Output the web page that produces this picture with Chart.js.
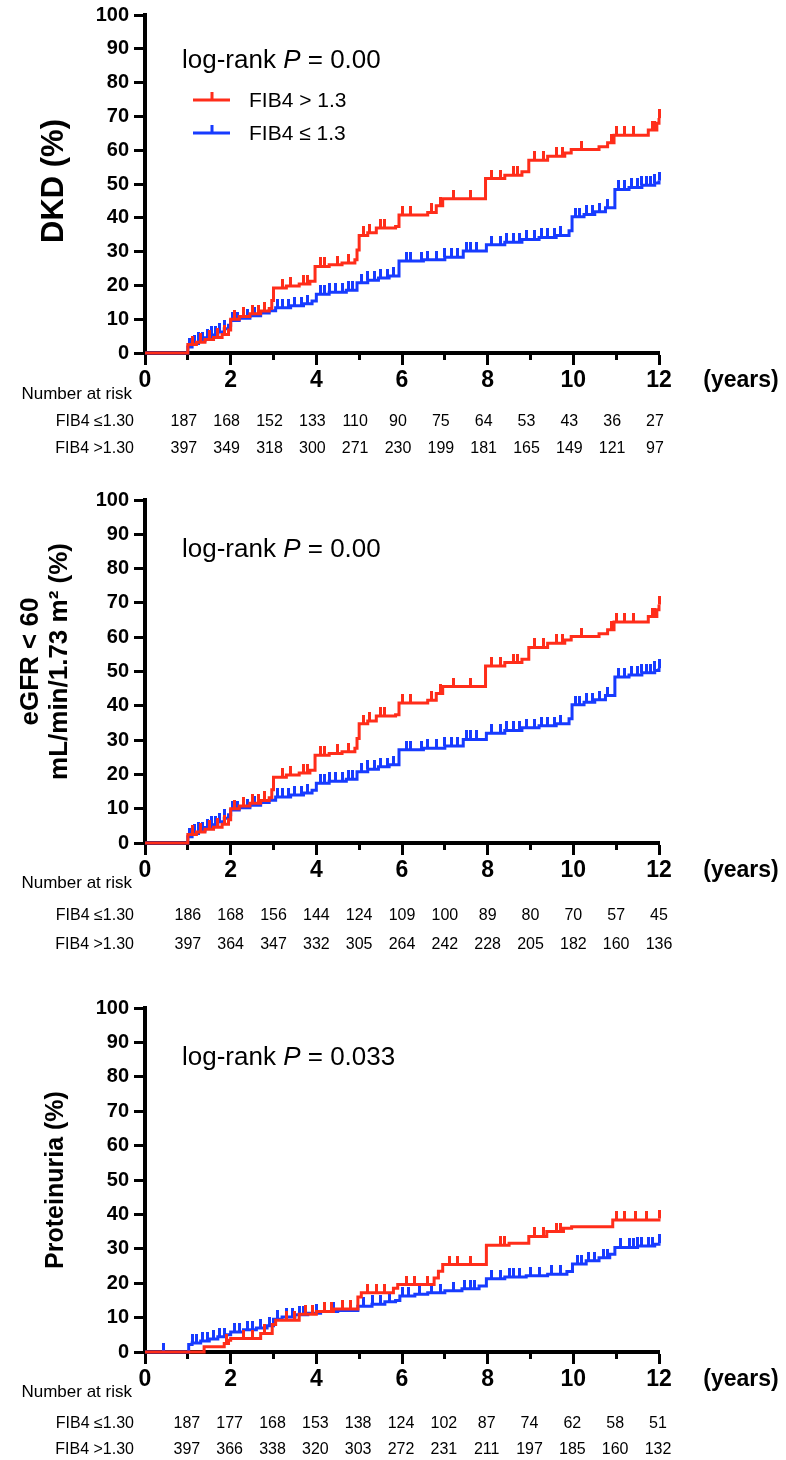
<!DOCTYPE html>
<html>
<head>
<meta charset="utf-8">
<script src="https://cdn.jsdelivr.net/npm/chart.js@4.4.1/dist/chart.umd.min.js"></script>
<style>
body { margin: 0; background: #fff; }
canvas { position: absolute; left: 0; }
</style>
</head>
<body>
<canvas id="c1" width="786" height="470" style="top:0px"></canvas>
<canvas id="c2" width="786" height="480" style="top:480px"></canvas>
<canvas id="c3" width="786" height="470" style="top:990px"></canvas>
<script>
// ---- data ----
// step curves: time (years) and cumulative incidence (%)
const dkdHighT = [0, 1.0, 1.2, 1.4, 1.6, 1.8, 1.95, 2.0, 2.2, 2.45, 2.7, 2.9, 2.96, 3.0, 3.3, 3.6, 3.85, 3.97, 4.3, 4.6, 4.9, 4.95, 5.0, 5.2, 5.4, 5.85, 5.93, 6.6, 6.8, 6.95, 7.95, 8.4, 8.8, 8.96, 9.4, 9.8, 9.95, 10.6, 10.8, 10.95, 11.75, 11.95, 12.0];
const dkdHighV = [0, 2.5, 3.2, 4.0, 4.6, 5.5, 6.8, 10.0, 10.8, 11.6, 12.4, 13.2, 15.5, 19.2, 19.8, 20.4, 21.2, 25.6, 26.1, 26.6, 27.6, 30.5, 34.8, 35.6, 37.0, 37.4, 40.8, 41.6, 43.6, 45.6, 51.6, 52.6, 53.6, 57.0, 58.2, 59.2, 60.2, 61.0, 62.2, 64.4, 66.0, 68.0, 69.5];
const dkdHighCens = [1.1, 1.3, 1.5, 1.7, 1.85, 2.1, 2.3, 2.5, 2.65, 2.8, 3.2, 3.4, 3.7, 3.8, 4.1, 4.2, 4.5, 4.75, 5.1, 5.25, 5.5, 5.6, 6.0, 6.2, 6.7, 6.9, 7.2, 7.6, 8.1, 8.3, 8.6, 8.7, 9.1, 9.3, 9.6, 9.75, 10.2, 10.9, 11.0, 11.2, 11.4, 11.85, 11.9, 12.0];

const dkdLowT = [0, 1.0, 1.1, 1.25, 1.4, 1.55, 1.7, 1.85, 1.95, 2.0, 2.2, 2.45, 2.7, 2.9, 3.05, 3.4, 3.7, 3.9, 4.0, 4.3, 4.7, 4.95, 5.2, 5.45, 5.7, 5.93, 6.5, 7.0, 7.43, 7.97, 8.4, 8.8, 9.2, 9.6, 9.9, 9.97, 10.25, 10.5, 10.75, 10.97, 11.3, 11.6, 11.9, 12.0];
const dkdLowV = [0, 1.8, 2.8, 3.6, 4.5, 5.3, 6.2, 7.2, 8.2, 9.6, 10.3, 11.0, 11.8, 12.5, 13.4, 14.0, 14.6, 15.4, 17.4, 18.0, 18.6, 20.8, 21.5, 22.2, 22.8, 27.2, 27.6, 28.3, 30.2, 32.0, 32.8, 33.6, 34.2, 34.8, 36.2, 40.3, 41.0, 41.8, 43.0, 48.4, 49.0, 49.6, 50.3, 51.0];
const dkdLowCens = [1.05, 1.15, 1.25, 1.35, 1.45, 1.55, 1.65, 1.75, 1.85, 2.05, 2.15, 2.3, 2.4, 2.55, 2.65, 2.8, 3.1, 3.2, 3.35, 3.5, 3.65, 3.8, 4.1, 4.2, 4.3, 4.45, 4.6, 4.75, 4.85, 5.05, 5.2, 5.35, 5.5, 5.65, 5.8, 6.1, 6.2, 6.45, 6.6, 6.8, 7.0, 7.15, 7.3, 7.5, 7.6, 7.75, 8.1, 8.3, 8.45, 8.6, 8.75, 8.9, 9.1, 9.25, 9.4, 9.55, 9.7, 10.05, 10.15, 10.3, 10.45, 10.6, 10.8, 11.05, 11.2, 11.35, 11.5, 11.6, 11.7, 11.8, 11.9, 12.0];

// the eGFR panel shows the same curves as the DKD panel
const egfrHighT = dkdHighT, egfrHighV = dkdHighV, egfrHighCens = dkdHighCens;
const egfrLowT = dkdLowT, egfrLowV = dkdLowV, egfrLowCens = dkdLowCens;

const protHighT = [0, 1.38, 1.85, 1.95, 2.0, 2.7, 2.97, 3.05, 3.6, 4.0, 4.4, 4.97, 5.05, 5.8, 5.9, 6.75, 6.85, 6.95, 7.97, 8.5, 8.96, 9.38, 9.77, 9.96, 10.92, 12.0];
const protHighV = [0, 1.5, 2.5, 3.4, 3.9, 5.4, 8.0, 9.2, 11.0, 11.8, 12.5, 16.0, 17.2, 18.5, 19.6, 21.5, 23.5, 25.4, 31.0, 31.6, 33.6, 35.0, 36.0, 36.4, 38.4, 38.8];
const protHighCens = [1.9, 2.3, 2.5, 2.8, 3.3, 3.5, 3.75, 3.9, 4.2, 4.35, 4.6, 4.8, 5.2, 5.4, 5.6, 6.1, 6.3, 6.6, 7.1, 7.3, 7.6, 8.3, 8.4, 9.1, 9.3, 9.6, 9.7, 11.0, 11.2, 11.45, 11.7, 12.0];

const protLowT = [0, 1.02, 1.1, 1.3, 1.5, 1.7, 1.9, 2.0, 2.3, 2.6, 2.85, 3.0, 3.2, 3.5, 3.8, 4.1, 4.5, 4.97, 5.3, 5.6, 5.85, 5.95, 6.3, 6.6, 7.0, 7.4, 7.8, 7.97, 8.4, 8.9, 9.4, 9.85, 9.98, 10.3, 10.6, 10.85, 10.97, 11.5, 11.9, 12.0];
const protLowV = [0, 2.2, 2.6, 3.2, 3.8, 4.4, 5.0, 5.8, 6.5, 7.0, 7.6, 9.5, 10.2, 10.8, 11.3, 11.8, 12.1, 13.3, 13.9, 14.6, 15.0, 16.3, 16.8, 17.2, 17.8, 18.4, 19.2, 21.3, 21.8, 22.2, 22.6, 23.4, 25.6, 26.5, 27.4, 28.4, 30.4, 30.8, 31.3, 31.6];
const protLowCens = [0.44, 1.1, 1.2, 1.35, 1.45, 1.6, 1.75, 1.85, 2.1, 2.2, 2.4, 2.5, 2.7, 2.9, 3.1, 3.3, 3.45, 3.6, 3.7, 4.0, 4.2, 4.4, 4.6, 4.8, 5.1, 5.3, 5.5, 5.7, 6.0, 6.15, 6.4, 6.7, 6.9, 7.2, 7.45, 7.6, 7.7, 8.1, 8.3, 8.5, 8.6, 8.75, 9.0, 9.2, 9.5, 9.7, 10.1, 10.2, 10.35, 10.5, 10.7, 10.8, 11.1, 11.3, 11.4, 11.5, 11.6, 11.75, 11.85, 12.0];

// number at risk
const riskYears = [1, 2, 3, 4, 5, 6, 7, 8, 9, 10, 11, 12];
const dkdRiskLow = [187, 168, 152, 133, 110, 90, 75, 64, 53, 43, 36, 27];
const dkdRiskHigh = [397, 349, 318, 300, 271, 230, 199, 181, 165, 149, 121, 97];
const egfrRiskLow = [186, 168, 156, 144, 124, 109, 100, 89, 80, 70, 57, 45];
const egfrRiskHigh = [397, 364, 347, 332, 305, 264, 242, 228, 205, 182, 160, 136];
const protRiskLow = [187, 177, 168, 153, 138, 124, 102, 87, 74, 62, 58, 51];
const protRiskHigh = [397, 366, 338, 320, 303, 272, 231, 211, 197, 185, 160, 132];

const xLabelYears = [0, 2, 4, 6, 8, 10, 12];
const yTickStep = 10;

const RED = '#FF2D1A';
const BLUE = '#173BFF';
const FONT = "'Liberation Sans', Arial, Helvetica, sans-serif";

function stepAt(ts, vs, t) {
    let v = vs[0];
    for (let i = 0; i < ts.length; i++) {
        if (ts[i] <= t) v = vs[i];
    }
    return v;
}

// small upward tick used as censor mark
function tickImage(color) {
    let c = document.createElement('canvas');
    c.width = 3;
    c.height = 18;
    let g = c.getContext('2d');
    g.fillStyle = color;
    g.fillRect(0, 0, 3, 9);
    return c;
}

function curve(ts, vs, color) {
    return {
        data: ts.map((t, i) => ({x: t, y: vs[i]})),
        borderColor: color,
        borderWidth: 3,
        stepped: 'before',
        pointRadius: 0,
        fill: false,
        clip: false
    };
}

function censors(ts, vs, cens, color) {
    return {
        data: cens.map(t => ({x: t, y: stepAt(ts, vs, t)})),
        showLine: false,
        pointStyle: tickImage(color),
        pointRadius: 3,
        clip: false
    };
}

function textPlugin(p) {
    return {
        id: 'texts',
        afterDraw(chart) {
            let ctx = chart.ctx;
            let a = chart.chartArea;
            let xs = chart.scales.x;
            let midY = (a.top + a.bottom) / 2 + p.titleDy;
            ctx.save();
            ctx.fillStyle = '#000';

            // y axis title (rotated)
            ctx.textAlign = 'center';
            ctx.textBaseline = 'alphabetic';
            ctx.font = 'bold ' + p.titleSize + 'px ' + FONT;
            p.title.forEach((line, i) => {
                ctx.save();
                ctx.translate(p.titleX[i], midY);
                ctx.rotate(-Math.PI / 2);
                ctx.fillText(line, 0, 0);
                ctx.restore();
            });

            // log-rank text
            ctx.textAlign = 'left';
            let x = 182;
            let y = a.top + p.pDy;
            ctx.font = '26px ' + FONT;
            ctx.fillText('log-rank ', x, y);
            x += ctx.measureText('log-rank ').width;
            ctx.font = 'italic 26px ' + FONT;
            ctx.fillText('P', x, y);
            x += ctx.measureText('P').width;
            ctx.font = '26px ' + FONT;
            ctx.fillText(' = ' + p.pValue, x, y);

            // legend
            if (p.legend) {
                [[RED, 'FIB4 > 1.3', 100], [BLUE, 'FIB4 \u2264 1.3', 133]].forEach(item => {
                    ctx.strokeStyle = item[0];
                    ctx.lineWidth = 3;
                    ctx.beginPath();
                    ctx.moveTo(193, item[2]);
                    ctx.lineTo(230, item[2]);
                    ctx.moveTo(212, item[2]);
                    ctx.lineTo(212, item[2] - 8);
                    ctx.stroke();
                    ctx.font = '21px ' + FONT;
                    ctx.textBaseline = 'middle';
                    ctx.fillText(item[1], 249, item[2] + 1);
                });
            }

            // x axis unit
            ctx.textBaseline = 'middle';
            ctx.textAlign = 'center';
            ctx.font = 'bold 23px ' + FONT;
            ctx.fillText('(years)', 741, a.bottom + 28);

            // number at risk table
            ctx.textAlign = 'right';
            ctx.font = '17px ' + FONT;
            ctx.fillText('Number at risk', 132, a.bottom + p.narDy);
            ctx.font = '16px ' + FONT;
            ctx.fillText('FIB4 \u22641.30', 134, a.bottom + p.row1Dy);
            ctx.fillText('FIB4 >1.30', 134, a.bottom + p.row2Dy);
            ctx.textAlign = 'center';
            riskYears.forEach((yr, i) => {
                let px = xs.getPixelForValue(yr) + p.riskDx;
                ctx.fillText(String(p.low[i]), px, a.bottom + p.row1Dy);
                ctx.fillText(String(p.high[i]), px, a.bottom + p.row2Dy);
            });
            ctx.restore();
        }
    };
}

function makePanel(id, p) {
    let ctx = document.getElementById(id).getContext('2d');
    return new Chart(ctx, {
        type: 'line',
        data: {
            datasets: [
                curve(p.highT, p.highV, RED),
                censors(p.highT, p.highV, p.highCens, RED),
                curve(p.lowT, p.lowV, BLUE),
                censors(p.lowT, p.lowV, p.lowCens, BLUE)
            ]
        },
        options: {
            responsive: false,
            animation: false,
            events: [],
            layout: {padding: {top: p.padTop, bottom: p.padBottom, left: 0, right: 127}},
            plugins: {legend: {display: false}, tooltip: {enabled: false}},
            scales: {
                x: {
                    type: 'linear',
                    min: 0,
                    max: 12,
                    afterFit: s => { s.height = 40; },
                    border: {display: true, width: 4, color: '#000'},
                    grid: {
                        drawOnChartArea: false,
                        drawTicks: true,
                        tickLength: 12,
                        tickWidth: 3,
                        tickColor: '#000',
                        tickBorderDash: c => (c.tick && xLabelYears.indexOf(c.tick.value) < 0) ? [5, 30] : []
                    },
                    ticks: {
                        stepSize: 1,
                        autoSkip: false,
                        maxRotation: 0,
                        padding: 2,
                        color: '#000',
                        font: {family: FONT, size: 23, weight: 'bold', lineHeight: 1.2},
                        callback: v => xLabelYears.indexOf(v) >= 0 ? String(v) : ''
                    }
                },
                y: {
                    min: 0,
                    max: 100,
                    afterFit: s => { s.width = 145; },
                    border: {display: true, width: 4, color: '#000'},
                    grid: {drawOnChartArea: false, tickLength: 11, tickWidth: 3, tickColor: '#000'},
                    ticks: {
                        stepSize: yTickStep,
                        padding: 5,
                        color: '#000',
                        font: {family: FONT, size: 20, weight: 'bold', lineHeight: 1}
                    }
                }
            }
        },
        plugins: [textPlugin(p)]
    });
}

makePanel('c1', {
    highT: dkdHighT, highV: dkdHighV, highCens: dkdHighCens,
    lowT: dkdLowT, lowV: dkdLowV, lowCens: dkdLowCens,
    low: dkdRiskLow, high: dkdRiskHigh,
    padTop: 12, padBottom: 77,
    title: ['DKD (%)'], titleX: [63], titleSize: 31, titleDy: -3,
    pValue: '0.00', pDy: 53, legend: true,
    narDy: 41, row1Dy: 69, row2Dy: 96, riskDx: -4
});

makePanel('c2', {
    highT: egfrHighT, highV: egfrHighV, highCens: egfrHighCens,
    lowT: egfrLowT, lowV: egfrLowV, lowCens: egfrLowCens,
    low: egfrRiskLow, high: egfrRiskHigh,
    padTop: 20, padBottom: 77,
    title: ['eGFR < 60', 'mL/min/1.73 m\u00b2 (%)'], titleX: [38, 67], titleSize: 26, titleDy: -10,
    pValue: '0.00', pDy: 57, legend: false,
    narDy: 40, row1Dy: 73, row2Dy: 102, riskDx: 0
});

makePanel('c3', {
    highT: protHighT, highV: protHighV, highCens: protHighCens,
    lowT: protLowT, lowV: protLowV, lowCens: protLowCens,
    low: protRiskLow, high: protRiskHigh,
    padTop: 18, padBottom: 68,
    title: ['Proteinuria (%)'], titleX: [63], titleSize: 25, titleDy: 0,
    pValue: '0.033', pDy: 57, legend: false,
    narDy: 40, row1Dy: 72, row2Dy: 98, riskDx: -1
});
</script>
</body>
</html>
